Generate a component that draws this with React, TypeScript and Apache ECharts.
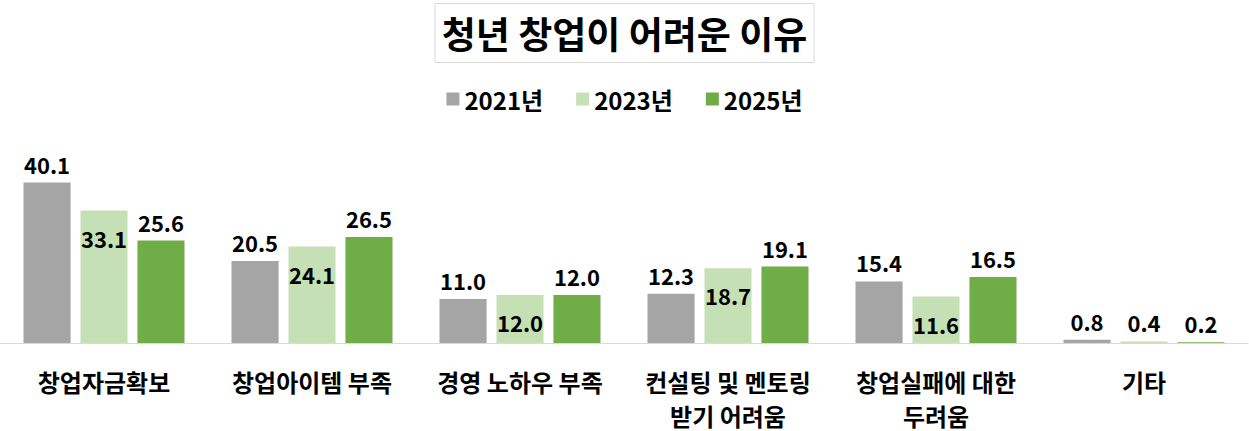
import React, { useEffect, useRef } from "react";
import * as echarts from "echarts";

const categories = [
  "창업자금확보",
  "창업아이템 부족",
  "경영 노하우 부족",
  "컨설팅 및 멘토링\n받기 어려움",
  "창업실패에 대한\n두려움",
  "기타",
];
const seriesNames = ["2021년", "2023년", "2025년"];
const values2021 = [40.1, 20.5, 11.0, 12.3, 15.4, 0.8];
const values2023 = [33.1, 24.1, 12.0, 18.7, 11.6, 0.4];
const values2025 = [25.6, 26.5, 12.0, 19.1, 16.5, 0.2];
const colors = ["#A5A5A5", "#C5E0B4", "#70AD47"];

const FONT = "'Noto Sans CJK KR', 'Noto Sans', sans-serif";

export default function App() {
  const ref = useRef<HTMLDivElement>(null);
  useEffect(() => {
    document.body.style.margin = "0";
    if (!ref.current) return;
    const chart = echarts.init(ref.current, null, { renderer: "svg" });
    const labelBase = {
      show: true,
      fontSize: 22,
      fontWeight: "bold" as const,
      color: "#000",
      fontFamily: FONT,
      formatter: (p: any) => Number(p.value).toFixed(1),
    };
    chart.setOption({
      animation: false,
      textStyle: { fontFamily: FONT },
      title: {
        text: "청년 창업이 어려운 이유",
        left: "center",
        top: 3,
        padding: [6, 7],
        borderWidth: 1,
        borderColor: "#D9D9D9",
        textStyle: {
          fontSize: 37,
          fontWeight: "bold",
          color: "#000",
          fontFamily: FONT,
          lineHeight: 48,
        },
      },
      legend: {
        top: 82,
        left: "center",
        itemWidth: 13,
        itemHeight: 13,
        itemGap: 33,
        icon: "rect",
        textStyle: {
          fontSize: 24,
          fontWeight: "bold",
          color: "#000",
          fontFamily: FONT,
        },
        data: seriesNames,
      },
      grid: {
        left: 0,
        right: 1,
        top: 163,
        bottom: 88,
        containLabel: false,
        outerBoundsMode: "none",
      },
      xAxis: {
        type: "category",
        data: categories,
        axisLine: { show: true, lineStyle: { color: "#D9D9D9", width: 1 } },
        axisTick: { show: false },
        axisLabel: {
          fontSize: 24,
          fontWeight: "bold",
          color: "#000",
          fontFamily: FONT,
          margin: 21,
          lineHeight: 34,
          interval: 0,
        },
      },
      yAxis: {
        type: "value",
        min: 0,
        max: 45,
        show: false,
        splitLine: { show: false },
      },
      series: [
        {
          name: seriesNames[0],
          type: "bar",
          data: values2021,
          itemStyle: { color: colors[0] },
          barGap: "21%",
          barCategoryGap: "22.6%",
          label: { ...labelBase, position: "top", distance: 8 },
        },
        {
          name: seriesNames[1],
          type: "bar",
          data: values2023.map((v) =>
            v < 5
              ? { value: v, label: { position: "top", distance: 8 } }
              : { value: v }
          ),
          itemStyle: { color: colors[1] },
          barGap: "21%",
          barCategoryGap: "22.6%",
          label: { ...labelBase, position: "insideTop", distance: 16 },
        },
        {
          name: seriesNames[2],
          type: "bar",
          data: values2025,
          itemStyle: { color: colors[2] },
          barGap: "21%",
          barCategoryGap: "22.6%",
          label: { ...labelBase, position: "top", distance: 8 },
        },
      ],
    });
    return () => chart.dispose();
  }, []);
  return (
    <div
      ref={ref}
      style={{ width: 1249, height: 431, position: "absolute", left: 0, top: 0 }}
    />
  );
}
